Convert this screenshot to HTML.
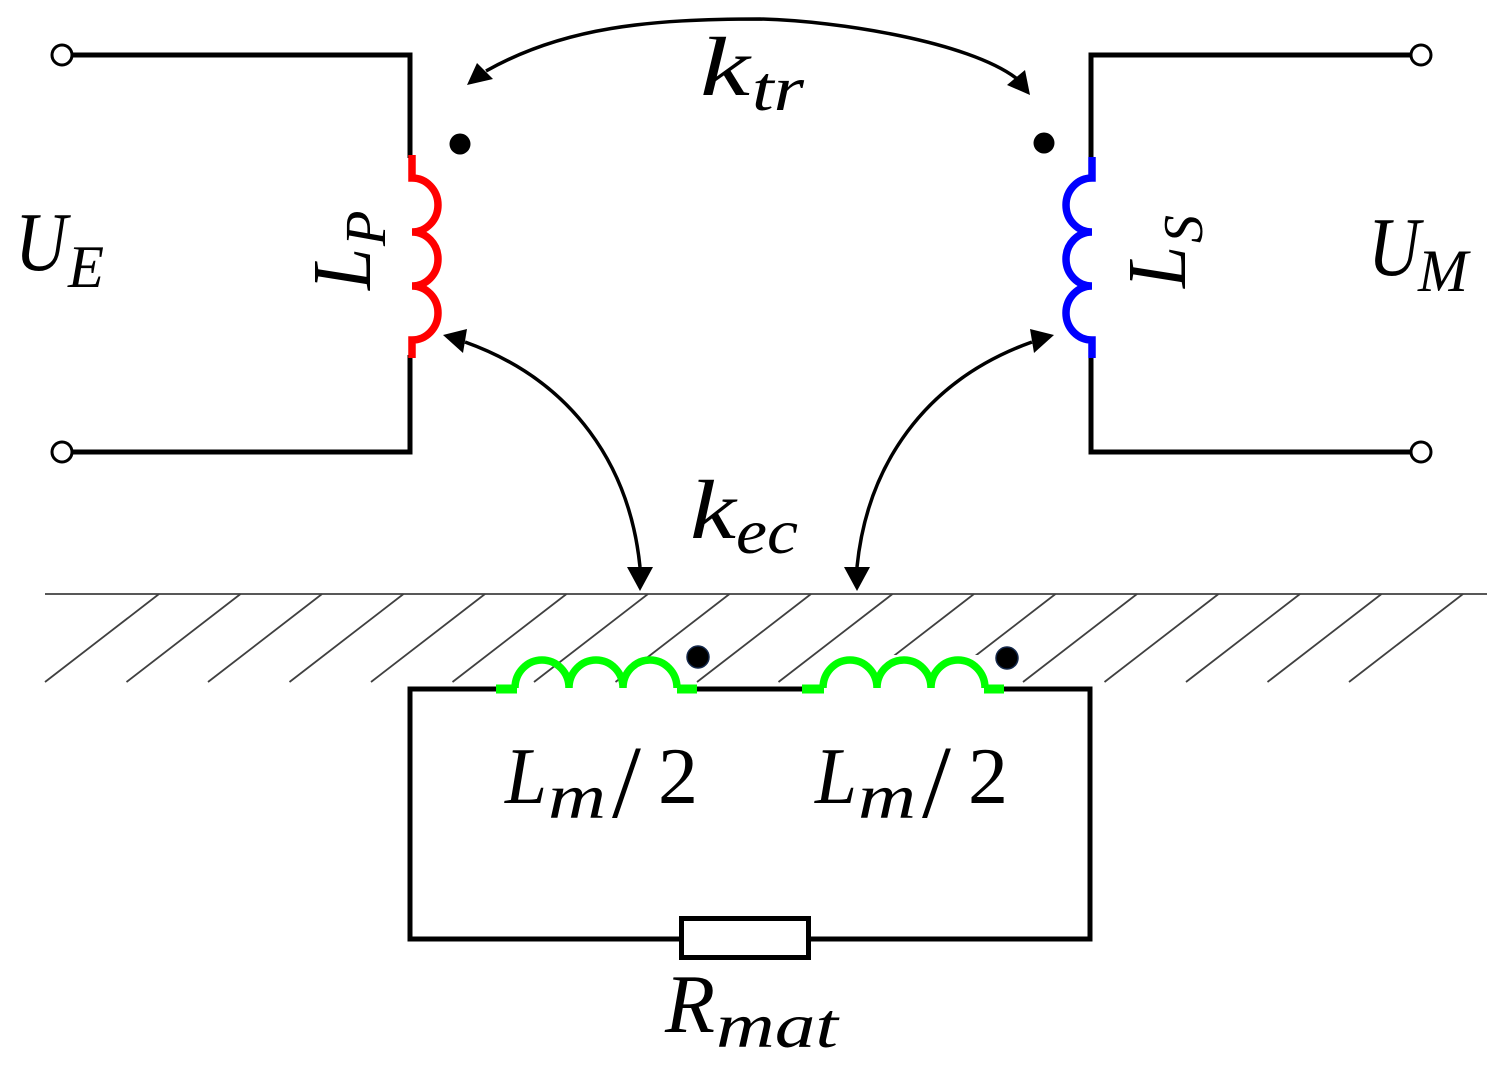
<!DOCTYPE html>
<html><head><meta charset="utf-8"><style>
html,body{margin:0;padding:0;background:#fff;}
svg{display:block;}
text{font-family:"Liberation Serif","DejaVu Serif",serif;font-style:italic;fill:#000;}
.up{font-style:normal;}
</style></head><body>
<svg width="1504" height="1067" viewBox="0 0 1504 1067" xmlns="http://www.w3.org/2000/svg">
<rect width="1504" height="1067" fill="#fff"/>
<!-- hatch -->
<g stroke="#404040" stroke-width="1.8" fill="none">
<line x1="45" y1="594" x2="1487" y2="594"/>
<line x1="45" y1="682" x2="159" y2="594"/>
<line x1="126.5" y1="682" x2="240.5" y2="594"/>
<line x1="208" y1="682" x2="322" y2="594"/>
<line x1="289.5" y1="682" x2="403.5" y2="594"/>
<line x1="371" y1="682" x2="485" y2="594"/>
<line x1="452.5" y1="682" x2="566.5" y2="594"/>
<line x1="534" y1="682" x2="648" y2="594"/>
<line x1="615.5" y1="682" x2="729.5" y2="594"/>
<line x1="697" y1="682" x2="811" y2="594"/>
<line x1="778.5" y1="682" x2="892.5" y2="594"/>
<line x1="860" y1="682" x2="974" y2="594"/>
<line x1="941.5" y1="682" x2="1055.5" y2="594"/>
<line x1="1023" y1="682" x2="1137" y2="594"/>
<line x1="1104.5" y1="682" x2="1218.5" y2="594"/>
<line x1="1186" y1="682" x2="1300" y2="594"/>
<line x1="1267.5" y1="682" x2="1381.5" y2="594"/>
<line x1="1349" y1="682" x2="1463" y2="594"/>
</g>
<rect x="822" y="655" width="164" height="32" fill="#fff"/>

<!-- wires -->
<g stroke="#000" stroke-width="5" fill="none" stroke-linejoin="miter">
<path d="M72,55 H410 V158"/>
<path d="M410,355 V452 H72"/>
<path d="M1411,55 H1091 V158"/>
<path d="M1091,355 V452 H1411"/>
<path d="M496,689 H410 V939 H1090 V689 H1004"/>
<path d="M697,689 H802"/>
</g>
<rect x="681.5" y="918.5" width="127" height="39" fill="#fff" stroke="#000" stroke-width="5"/>

<!-- terminals -->
<g stroke="#000" stroke-width="3" fill="#fff">
<circle cx="62" cy="55" r="10"/>
<circle cx="62" cy="452" r="10"/>
<circle cx="1421" cy="55" r="10"/>
<circle cx="1421" cy="452" r="10"/>
</g>

<!-- coils -->
<path d="M412,155 V178 A26,27 0 0 1 412,232 A26,27 0 0 1 412,286 A26,27 0 0 1 412,340 V358" stroke="#ff0000" stroke-width="7.5" fill="none"/>
<path d="M1092,157 V178 A26,27 0 0 0 1092,232 A26,27 0 0 0 1092,286 A26,27 0 0 0 1092,340 V358" stroke="#0000ff" stroke-width="7.5" fill="none"/>
<g fill="#00ff00">
<rect x="496" y="684.5" width="21" height="9"/>
<rect x="677" y="684.5" width="20" height="9"/>
<rect x="802" y="684.5" width="22" height="9"/>
<rect x="984" y="684.5" width="20" height="9"/>
</g>
<g stroke="#00ff00" stroke-width="7.5" fill="none">
<path d="M515,688 A27,28 0 0 1 569,688 A27,28 0 0 1 623,688 A27,28 0 0 1 677,688"/>
<path d="M823,688 A27,28 0 0 1 877,688 A27,28 0 0 1 931,688 A27,28 0 0 1 985,688"/>
</g>

<!-- dots -->
<circle cx="460" cy="144" r="10.5" fill="#000"/>
<circle cx="1044" cy="143" r="10.5" fill="#000"/>
<circle cx="698" cy="657" r="11" fill="#000" stroke="#14284b" stroke-width="1.5"/>
<circle cx="1007" cy="658" r="11" fill="#000" stroke="#14284b" stroke-width="1.5"/>

<!-- arrows -->
<g stroke="#000" stroke-width="3.5" fill="none">
<path d="M486,71 C564,27 650,19 760,19 C840,21 968,42 1016,78"/>
<path d="M465,342 C574,381 630,467 640,567"/>
<path d="M1032,342 C923,381 867,467 857,567"/>
</g>
<g fill="#000">
<polygon points="467,85 477,63 493,79"/>
<polygon points="1030,95 1007,85 1025,70"/>
<polygon points="443,335 467,329 463,353"/>
<polygon points="640,591 627,567 653,567"/>
<polygon points="1054,335 1030,329 1034,353"/>
<polygon points="857,591 870,567 844,567"/>
</g>

<!-- labels -->
<text x="15" y="270" font-size="84" textLength="52" lengthAdjust="spacingAndGlyphs">U</text>
<text x="68" y="287" font-size="60" textLength="36" lengthAdjust="spacingAndGlyphs">E</text>
<text x="1368" y="275" font-size="84" textLength="52" lengthAdjust="spacingAndGlyphs">U</text>
<text x="1418" y="291" font-size="60" textLength="50" lengthAdjust="spacingAndGlyphs">M</text>

<text x="700" y="95" font-size="84" textLength="50" lengthAdjust="spacingAndGlyphs">k</text>
<text x="752" y="110" font-size="64" textLength="52" lengthAdjust="spacingAndGlyphs">tr</text>

<text x="690" y="538" font-size="84" textLength="46" lengthAdjust="spacingAndGlyphs">k</text>
<text x="736" y="553" font-size="64" textLength="62" lengthAdjust="spacingAndGlyphs">ec</text>

<text x="505" y="803" font-size="80" textLength="42" lengthAdjust="spacingAndGlyphs">L</text>
<text x="548" y="818" font-size="64" textLength="58" lengthAdjust="spacingAndGlyphs">m</text>
<text x="612" y="817" font-size="104" class="up">/</text>
<text x="658" y="803" font-size="80" class="up">2</text>

<text x="815" y="803" font-size="80" textLength="42" lengthAdjust="spacingAndGlyphs">L</text>
<text x="858" y="818" font-size="64" textLength="58" lengthAdjust="spacingAndGlyphs">m</text>
<text x="922" y="817" font-size="104" class="up">/</text>
<text x="968" y="803" font-size="80" class="up">2</text>

<text x="665" y="1032" font-size="84" textLength="50" lengthAdjust="spacingAndGlyphs">R</text>
<text x="716" y="1047" font-size="64" textLength="122" lengthAdjust="spacingAndGlyphs">mat</text>

<g transform="translate(370,290) rotate(-90)">
<text x="0" y="0" font-size="84" textLength="42" lengthAdjust="spacingAndGlyphs">L</text>
<text x="44" y="15" font-size="58">P</text>
</g>
<g transform="translate(1185,288) rotate(-90)">
<text x="0" y="0" font-size="84" textLength="42" lengthAdjust="spacingAndGlyphs">L</text>
<text x="45" y="17" font-size="56">S</text>
</g>
</svg>
</body></html>
